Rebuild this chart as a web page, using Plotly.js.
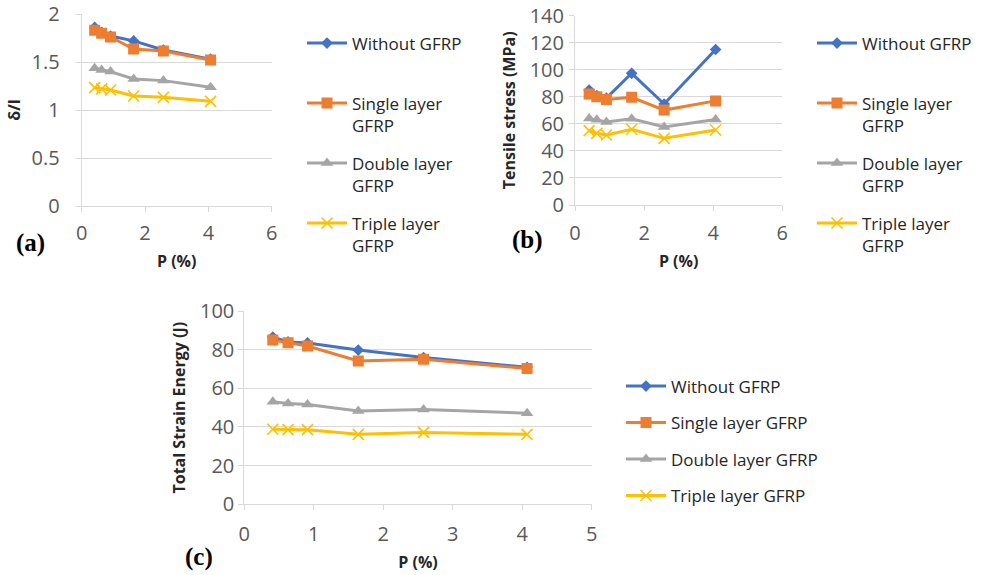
<!DOCTYPE html>
<html>
<head>
<meta charset="utf-8">
<script src="https://cdn.plot.ly/plotly-3.0.1.min.js"></script>
<style>html,body{margin:0;padding:0;background:#fff;}#chart{width:989px;height:575px;}</style>
</head>
<body>
<div id="chart"></div>
<script>
// ---- data ----
const pPercent = [0.41, 0.63, 0.91, 1.64, 2.58, 4.07];
const seriesNamesShort = ["Without GFRP<br>&nbsp;", "Single layer<br>GFRP", "Double layer<br>GFRP", "Triple layer<br>GFRP"];
const seriesNamesLong = ["Without GFRP", "Single layer GFRP", "Double layer GFRP", "Triple layer GFRP"];

// (a) deflection ratio δ/l
const deltaWithout = [1.86, 1.81, 1.77, 1.72, 1.625, 1.53];
const deltaSingle  = [1.83, 1.80, 1.76, 1.635, 1.615, 1.52];
const deltaDouble  = [1.434, 1.417, 1.40, 1.323, 1.306, 1.236];
const deltaTriple  = [1.233, 1.22, 1.208, 1.146, 1.132, 1.09];

// (b) tensile stress (MPa)
const stressWithout = [85, 81, 79, 97.4, 74.7, 115];
const stressSingle  = [82, 80, 78, 79.6, 70.2, 77];
const stressDouble  = [64, 63, 61.4, 63.8, 57.7, 63.3];
const stressTriple  = [55, 53, 51.8, 56, 49.3, 55.5];

// (c) total strain energy (J)
const energyWithout = [86.5, 84, 83.5, 79.8, 75.9, 70.9];
const energySingle  = [85, 83.6, 81.9, 74.1, 75, 70.3];
const energyDouble  = [53.1, 52.2, 51.6, 48.3, 49.1, 47.1];
const energyTriple  = [38.8, 38.6, 38.6, 36.2, 37.2, 36.2];

// ---- styles ----
const colors = ["#4472C4", "#ED7D31", "#A5A5A5", "#FFC000"];
const markers = [
  {symbol: "diamond", size: 9},
  {symbol: "square", size: 11},
  {symbol: "triangle-up", size: 11},
  {symbol: "x-thin", size: 11, line: {width: 1.6, color: "#FFC000"}}
];

function makeTraces(ys, names, xa, ya, legend) {
  return ys.map((y, i) => ({
    type: "scatter", mode: "lines+markers",
    x: pPercent, y: y, name: names[i],
    xaxis: xa, yaxis: ya, legend: legend, legendgroup: legend + i,
    line: {color: colors[i], width: 3},
    marker: Object.assign({color: colors[i]}, markers[i])
  }));
}

const data = [].concat(
  makeTraces([deltaWithout, deltaSingle, deltaDouble, deltaTriple], seriesNamesShort, "x", "y", "legend"),
  makeTraces([stressWithout, stressSingle, stressDouble, stressTriple], seriesNamesShort, "x2", "y2", "legend2"),
  makeTraces([energyWithout, energySingle, energyDouble, energyTriple], seriesNamesLong, "x3", "y3", "legend3")
);

const W = 989, H = 575;
const tickFont = {family: "Open Sans", size: 20, color: "#595959"};
const titleFont = {family: "Open Sans", size: 16, color: "#262626", weight: "bold"};

function xAxis(domain, range, dtick, anchor, tstand, standoff) {
  return {
    domain: domain, range: range, dtick: dtick, anchor: anchor,
    showgrid: false, zeroline: false, showline: true, linecolor: "#d9d9d9", linewidth: 1,
    ticks: "outside", ticklen: 5, tickcolor: "#d9d9d9",
    tickfont: tickFont, ticklabelstandoff: tstand, ticklabeloverflow: "allow",
    title: {text: "P (%)", font: titleFont, standoff: standoff}
  };
}
function yAxis(domain, range, dtick, anchor, title, standoff, tstand) {
  return {
    domain: domain, range: range, dtick: dtick, anchor: anchor,
    showgrid: true, gridcolor: "#d9d9d9", gridwidth: 1, zeroline: false,
    showline: true, linecolor: "#d9d9d9", linewidth: 1,
    ticks: "outside", ticklen: 5, tickcolor: "#d9d9d9",
    tickfont: tickFont, ticklabelstandoff: tstand, ticklabeloverflow: "allow",
    title: {text: title, font: titleFont, standoff: standoff}
  };
}

const legendBase = {
  font: {family: "Open Sans", size: 17, color: "#262626"},
  bgcolor: "rgba(0,0,0,0)", borderwidth: 0,
  xanchor: "left", yanchor: "top", valign: "top",
  itemwidth: 40, itemclick: false, itemdoubleclick: false
};

const layout = {
  width: W, height: H,
  margin: {l: 0, r: 0, t: 0, b: 0},
  paper_bgcolor: "#fff", plot_bgcolor: "#fff",
  showlegend: true,
  xaxis:  xAxis([81.7 / W, 271.7 / W], [0, 6], 2, "y", 4, 10),
  yaxis:  yAxis([1 - 206 / H, 1 - 14 / H], [0, 2], 0.5, "x", "δ/l", 6, 12),
  xaxis2: xAxis([575 / W, 782.3 / W], [0, 6], 2, "y2", 5, 10),
  yaxis2: yAxis([1 - 205 / H, 1 - 15.7 / H], [0, 140], 20, "x2", "Tensile stress (MPa)", 10, 1),
  xaxis3: xAxis([244.3 / W, 591.7 / W], [0, 5], 1, "y3", 7, 10),
  yaxis3: yAxis([1 - 504.3 / H, 1 - 311 / H], [0, 100], 20, "x3", "Total Strain Energy (J)", 10, 0),
  legend:  Object.assign({}, legendBase, {x: 302 / W, y: 1 - 25.5 / H, tracegroupgap: 12.8}),
  legend2: Object.assign({}, legendBase, {x: 812 / W, y: 1 - 25.5 / H, tracegroupgap: 12.8}),
  legend3: Object.assign({}, legendBase, {x: 621 / W, y: 1 - 368.5 / H, tracegroupgap: 11.4}),
  annotations: [
    {text: "(a)", x: 30 / W, y: 1 - 243 / H},
    {text: "(b)", x: 527 / W, y: 1 - 240 / H},
    {text: "(c)", x: 199 / W, y: 1 - 557 / H}
  ].map(a => Object.assign({
    xref: "paper", yref: "paper", showarrow: false, xanchor: "center", yanchor: "middle",
    font: {family: "Liberation Serif", size: 25, color: "#000", weight: "bold"}
  }, a))
};

Plotly.newPlot("chart", data, layout, {staticPlot: true, displayModeBar: false});
</script>
</body>
</html>
